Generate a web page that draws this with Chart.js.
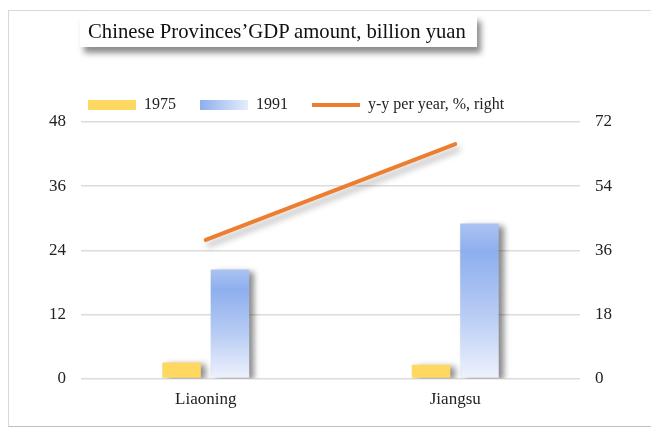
<!DOCTYPE html>
<html>
<head>
<meta charset="utf-8">
<script src="https://cdn.jsdelivr.net/npm/chart.js@4.4.0/dist/chart.umd.min.js"></script>
<style>
  html, body { margin: 0; padding: 0; background: #fff; }
  #wrap { position: relative; width: 651px; height: 428px; overflow: hidden; }
  #frame {
    position: absolute; left: 8px; top: 10px; width: 680px; height: 415px;
    border: 1px solid #d9d9d9; border-bottom-color: #bfbfbf;
  }
  #title {
    position: absolute; left: 80px; top: 15px; width: 397px; height: 32px;
    background: #fff; box-shadow: 4px 6px 6px rgba(0,0,0,0.45);
    font-family: "Liberation Serif", serif; font-size: 20.7px; color: #111;
    line-height: 32px; padding-left: 8px; box-sizing: border-box; white-space: nowrap;
  }
  canvas { position: absolute; left: 0; top: 0; }
</style>
</head>
<body>
<div id="wrap">
  <div id="frame"></div>
  <canvas id="myChart" width="651" height="428"></canvas>
  <div id="title">Chinese Provinces’GDP amount, billion yuan</div>
</div>
<script>
// chart data
const provinces = ['Liaoning', 'Jiangsu'];
const gdp1975 = [3.0, 2.6];
const gdp1991 = [20.4, 29.0];
const yoyGrowth = [38.9, 65.8];
const seriesNames = ['1975', '1991', 'y-y per year, %, right'];

const serif = 'Liberation Serif';

// vertical gradient for each 1991 bar
function barGradient(context) {
    const chart = context.chart;
    if (!chart.chartArea || context.type !== 'data') return '#9db8ef';
    const y = chart.scales.y;
    const top = y.getPixelForValue(context.raw);
    const bottom = y.getPixelForValue(0);
    const g = chart.ctx.createLinearGradient(0, top, 0, bottom);
    g.addColorStop(0, '#abc3f2');
    g.addColorStop(0.18, '#8eaeee');
    g.addColorStop(0.6, '#b9cdf4');
    g.addColorStop(1, '#eef2fc');
    return g;
}

// soft drop shadow behind bars and line
const shadowPlugin = {
    id: 'shadow',
    beforeDatasetDraw(chart, args) {
        const ctx = chart.ctx;
        ctx.save();
        if (args.meta.type === 'bar') {
            ctx.shadowColor = 'rgba(0,0,0,0.45)';
            ctx.shadowBlur = 6;
            ctx.shadowOffsetX = 5;
            ctx.shadowOffsetY = 2;
        } else {
            ctx.shadowColor = 'rgba(0,0,0,0.3)';
            ctx.shadowBlur = 6;
            ctx.shadowOffsetX = 3;
            ctx.shadowOffsetY = 5;
        }
    },
    afterDatasetDraw(chart) {
        chart.ctx.restore();
    }
};

// nudge the legend so it sits where the original one does
const legendNudge = {
    id: 'legendNudge',
    afterLayout(chart) {
        const legend = chart.legend;
        if (!legend) return;
        legend.left += 30;
        legend.right += 30;
        legend.top += 1;
        legend.bottom += 1;
    },
    beforeDraw(chart) {
        const legend = chart.legend;
        if (!legend || !legend.legendHitBoxes || !legend.legendItems) return;
        const box = legend.legendHitBoxes[1];
        if (!box) return;
        const g = chart.ctx.createLinearGradient(box.left, 0, box.left + 48, 0);
        g.addColorStop(0, '#8eaeee');
        g.addColorStop(1, '#e6edfb');
        legend.legendItems[1].fillStyle = g;
    }
};

new Chart(document.getElementById('myChart'), {
    type: 'bar',
    data: {
        labels: provinces,
        datasets: [
            {
                label: seriesNames[0],
                data: gdp1975,
                backgroundColor: '#ffd862',
                borderWidth: 0,
                pointStyle: 'rect',
                yAxisID: 'y',
                categoryPercentage: 0.388,
                barPercentage: 0.796
            },
            {
                label: seriesNames[1],
                data: gdp1991,
                backgroundColor: barGradient,
                borderWidth: 0,
                pointStyle: 'rect',
                yAxisID: 'y',
                categoryPercentage: 0.388,
                barPercentage: 0.796
            },
            {
                type: 'line',
                label: seriesNames[2],
                data: yoyGrowth,
                borderColor: '#ed7d31',
                backgroundColor: '#ed7d31',
                borderWidth: 4,
                borderCapStyle: 'round',
                pointRadius: 0,
                pointStyle: 'line',
                yAxisID: 'y1'
            }
        ]
    },
    options: {
        responsive: false,
        animation: false,
        layout: { padding: { left: 34, right: 32, top: 72, bottom: 15 } },
        plugins: {
            tooltip: { enabled: false },
            title: { display: false },
            legend: {
                position: 'top',
                align: 'start',
                labels: {
                    usePointStyle: true,
                    pointStyleWidth: 48,
                    boxHeight: 10,
                    padding: 24,
                    color: '#222',
                    font: { family: serif, size: 16 }
                }
            }
        },
        scales: {
            x: {
                grid: { display: false },
                border: { display: false },
                ticks: { color: '#222', font: { family: serif, size: 17 }, padding: 3 }
            },
            y: {
                position: 'left',
                min: 0,
                max: 48,
                ticks: { stepSize: 12, color: '#222', font: { family: serif, size: 17 }, padding: 15 },
                grid: { color: '#dcdcdc', lineWidth: 1.5, drawTicks: false },
                border: { display: false }
            },
            y1: {
                position: 'right',
                min: 0,
                max: 72,
                ticks: { stepSize: 18, color: '#222', font: { family: serif, size: 17 }, padding: 7 },
                grid: { display: false },
                border: { display: false }
            }
        }
    },
    plugins: [shadowPlugin, legendNudge]
});
</script>
</body>
</html>
